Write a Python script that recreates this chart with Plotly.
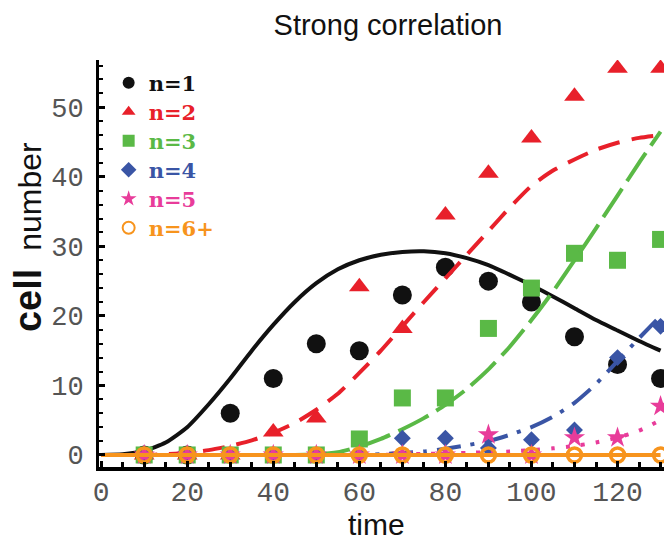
import plotly.graph_objects as go

# ---------------- data ----------------
point_x = [10, 20, 30, 40, 50, 60, 70, 80, 90, 100, 110, 120, 130]
n1_pts = [0, 0, 6, 11, 16, 15, 23, 27, 25, 22, 17, 13, 11]
n2_pts = [0, 0, 0, 3.3, 5.3, 24.2, 18.2, 34.5, 40.5, 45.6, 51.6, 55.6, 55.6]
n3_pts = [0, 0, 0, 0, 0, 2.3, 8.2, 8.2, 18.2, 24.0, 29.0, 28.0, 31.0]
n4_pts = [0, 0, 0, 0, 0, 0, 2.4, 2.4, 1.0, 2.2, 3.6, 14.0, 18.5]
n5_pts = [0, 0, 0, 0, 0, 0, 0, 0, 2.9, 0, 2.5, 2.5, 7.0]
n6_pts = [0, 0, 0, 0, 0, 0, 0, 0, 0, 0, 0, 0, 0]

curve_x = [0, 5, 10, 15, 20, 25, 30, 35, 40, 45, 50, 55, 60, 65, 70,
           75, 80, 85, 90, 95, 100, 105, 110, 115, 120, 125, 130]
n1_fit = [0, 0.1, 0.6, 1.8, 4.0, 7.3, 11.0, 15.0, 18.7, 22.0, 24.7, 26.7, 28.0, 28.8,
          29.2, 29.3, 29.0, 28.3, 27.3, 25.9, 24.4, 22.8, 21.1, 19.4, 17.9, 16.4, 15.0]
n2_fit = [0, 0, 0, 0.1, 0.3, 0.7, 1.3, 2.1, 3.2, 4.6, 6.5, 8.8, 11.8, 15.0,
          18.5, 22.0, 25.4, 28.8, 32.2, 35.6, 38.7, 40.9, 42.5, 43.9, 44.9, 45.6, 46.0]
n3_fit = [0, 0, 0, 0, 0, 0, 0, 0, 0, 0, 0.1, 0.4, 1.2, 2.3,
          3.7, 5.3, 7.2, 9.5, 12.3, 15.6, 19.4, 23.5, 28.0, 32.6, 37.3, 42.0, 46.5]
n4_fit = [0, 0, 0, 0, 0, 0, 0, 0, 0, 0, 0, 0, 0, 0.1,
          0.3, 0.5, 0.9, 1.4, 2.0, 2.9, 4.0, 5.5, 7.5, 10.2, 13.5, 16.8, 20.0]
n5_fit = [0, 0, 0, 0, 0, 0, 0, 0, 0, 0, 0, 0, 0, 0,
          0.1, 0.15, 0.2, 0.3, 0.4, 0.5, 0.7, 0.95, 1.3, 1.8, 2.5, 3.5, 5.0]
n6_fit = [0, 0, 0, 0, 0, 0, 0, 0, 0, 0, 0, 0, 0, 0,
          0, 0, 0, 0, 0, 0, 0, 0, 0, 0, 0, 0, 0]

labels = ["n=1", "n=2", "n=3", "n=4", "n=5", "n=6+"]
x_ticks = [0, 20, 40, 60, 80, 100, 120]
y_ticks = [0, 10, 20, 30, 40, 50]

# ---------------- styles ----------------
colors = ["#111111", "#e8202a", "#5ab946", "#3a55a5", "#e83c9a", "#f7941d"]
symbols = ["circle", "triangle-up", "square", "diamond", "star", "circle-open"]
sizes = [19, 18, 17, 13, 16, 14]
dashes = ["solid", "22px,12px", "34px,9px", "24px,10px,4px,10px", "4px,11px", "solid"]

pts = [n1_pts, n2_pts, n3_pts, n4_pts, n5_pts, n6_pts]
fits = [n1_fit, n2_fit, n3_fit, n4_fit, n5_fit, n6_fit]

mono = "Liberation Mono, Courier New, monospace"
sans = "Liberation Sans, Arial, sans-serif"
x_range = [-0.5, 131.5]


def line_trace(i, xa):
    return go.Scatter(
        x=curve_x, y=fits[i], mode="lines", showlegend=False, xaxis=xa,
        line=dict(color=colors[i], width=4, dash=dashes[i], shape="spline", smoothing=0.6),
    )


fig = go.Figure()
for i in range(6):
    xa = "x2" if i == 5 else "x"   # last series on the label axis (same scale) so it sits on top
    mk = dict(color=colors[i], size=sizes[i], symbol=symbols[i])
    if symbols[i] == "circle-open":
        mk["line"] = dict(color=colors[i], width=3.5)
    else:
        mk["line"] = dict(width=0)
    if i == 5:
        fig.add_trace(line_trace(i, xa))
    fig.add_trace(go.Scatter(
        x=point_x, y=pts[i], mode="markers", marker=mk, xaxis=xa,
        name=("<span style=\"color:%s;font-size:21px;font-family:'DejaVu Serif',serif;"
              "font-weight:bold\">%s</span>") % (colors[i], labels[i]),
    ))
    if i != 5:
        fig.add_trace(line_trace(i, xa))

fig.update_layout(
    width=672, height=543,
    margin=dict(l=91, r=13, t=52, b=84),
    paper_bgcolor="white", plot_bgcolor="white",
    title=dict(text="Strong correlation", xref="container", yref="container",
               x=0.5655, xanchor="center", y=0.9685, yanchor="middle",
               font=dict(family=sans, size=29, color="#111111")),
    showlegend=True,
    legend=dict(x=0.017, y=0.992, xanchor="left", yanchor="top",
                bgcolor="rgba(0,0,0,0)", itemsizing="constant",
                font=dict(family="DejaVu Serif, serif", size=20, weight="bold"),
                itemclick=False),
    xaxis=dict(range=x_range, tickvals=x_ticks, showgrid=False, zeroline=False,
               showline=True, linewidth=4, linecolor="black", showticklabels=False,
               ticks="inside", ticklen=6, tickwidth=3, tickcolor="black",
               minor=dict(dtick=5, ticks="inside", ticklen=5, tickwidth=3, tickcolor="black")),
    xaxis2=dict(range=x_range, tickvals=x_ticks, overlaying="x", anchor="free", position=0.013,
                showgrid=False, zeroline=False, showline=False, ticks="",
                ticklabelstandoff=10,
                tickfont=dict(family=mono, size=28, color="#555555")),
    yaxis=dict(range=[-1.73, 56.8], tickvals=y_ticks, showgrid=False, zeroline=False,
               showline=True, linewidth=3, linecolor="black",
               ticks="inside", ticklen=6, tickwidth=3, tickcolor="black",
               minor=dict(dtick=2, ticks="inside", ticklen=4, tickwidth=2, tickcolor="black"),
               tickfont=dict(family=mono, size=27, color="#555555"),
               ticklabelstandoff=7),
    annotations=[
        dict(text="<span style=\"font-size:38px\"><b>cell</b></span>  number",
             xref="paper", yref="paper",
             x=-0.125, y=0.565, xanchor="center", yanchor="middle",
             textangle=-90, showarrow=False,
             font=dict(family=sans, size=32, color="#111111")),
        dict(text="time", xref="paper", yref="paper",
             x=0.488, y=-0.142, xanchor="center", yanchor="middle",
             showarrow=False, font=dict(family=sans, size=30, color="#111111")),
    ],
)

fig.write_html("out.html")
